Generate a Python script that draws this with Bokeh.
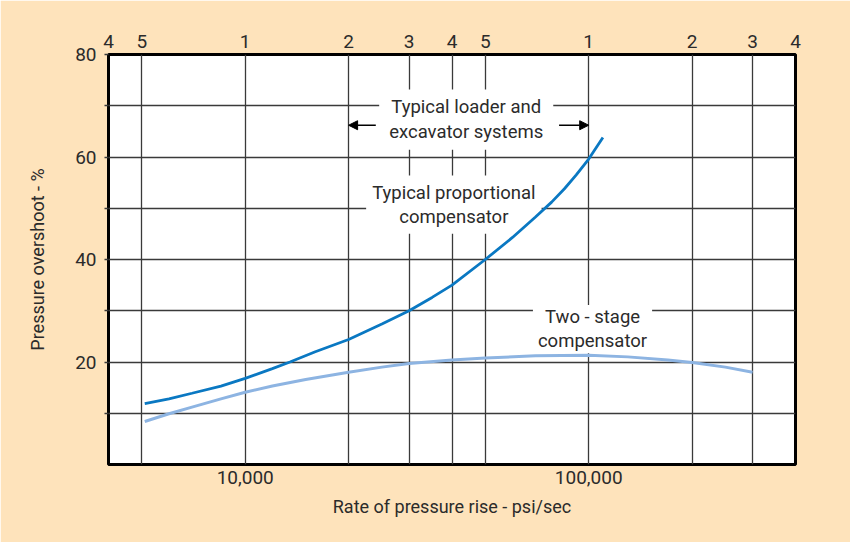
from bokeh.plotting import figure
from bokeh.models import FixedTicker, LogAxis, Label, Arrow, NormalHead
from bokeh.embed import file_html
from bokeh.resources import INLINE

FONT = "Roboto"
TEXT = "#2b2b2b"
BG = "#fee3bb"

# ---- data ----
prop_rate = [5100, 6000, 7000, 8500, 10000, 12000, 13500, 16000, 20000, 25000, 30000,
             35000, 40000, 50000, 60000, 70000, 78000, 85000, 92000, 100000, 110000]
prop_overshoot = [11.9, 12.8, 13.9, 15.3, 16.8, 18.7, 20.0, 22.0, 24.4, 27.4, 30.0,
                  32.6, 35.0, 40.0, 44.3, 48.3, 51.2, 53.8, 56.5, 59.6, 63.8]

two_rate = [5100, 6000, 7000, 8500, 10000, 12000, 15000, 20000, 25000, 30000, 40000,
            50000, 70000, 100000, 130000, 170000, 200000, 250000, 300000]
two_overshoot = [8.4, 9.9, 11.2, 12.8, 14.1, 15.3, 16.6, 18.0, 19.0, 19.7, 20.4,
                 20.8, 21.2, 21.3, 21.0, 20.4, 19.9, 19.0, 18.0]

top_ticks = [4000, 5000, 10000, 20000, 30000, 40000, 50000, 100000, 200000, 300000, 400000]
top_labels = ["4", "5", "1", "2", "3", "4", "5", "1", "2", "3", "4"]
bottom_ticks = [10000, 100000]
bottom_labels = ["10,000", "100,000"]
y_ticks = [10, 20, 30, 40, 50, 60, 70, 80]
y_labels = ["", "20", "", "40", "", "60", "", "80"]
x_grid = [5000, 10000, 20000, 30000, 40000, 50000, 100000, 200000, 300000]
y_grid = [10, 20, 30, 40, 50, 60, 70]

p = figure(width=850, height=542, x_axis_type="log", x_range=(4000, 400000), y_range=(0, 80),
           output_backend="svg", toolbar_location=None,
           min_border_left=108, min_border_top=54, min_border_right=55, min_border_bottom=78)

p.background_fill_color = "white"
p.border_fill_color = BG
p.outline_line_color = "black"
p.outline_line_width = 3

# grids
p.xgrid.ticker = FixedTicker(ticks=x_grid)
p.ygrid.ticker = FixedTicker(ticks=y_grid)
for g in (p.xgrid, p.ygrid):
    g.grid_line_color = "#3a3a3a"
    g.grid_line_width = 1.3

# bottom axis
xa = p.xaxis[0]
xa.ticker = FixedTicker(ticks=bottom_ticks)
xa.major_label_overrides = dict(zip(bottom_ticks, bottom_labels))
xa.axis_line_color = None
xa.major_tick_line_color = None
xa.minor_tick_line_color = None
xa.major_label_standoff = 0
xa.major_label_text_font = FONT
xa.major_label_text_font_size = "19px"
xa.major_label_text_color = TEXT
xa.axis_label = "Rate of pressure rise - psi/sec"
xa.axis_label_text_font = FONT
xa.axis_label_text_font_size = "18px"
xa.axis_label_text_font_style = "normal"
xa.axis_label_text_color = TEXT
xa.axis_label_standoff = 9

# top axis
ta = LogAxis(ticker=FixedTicker(ticks=top_ticks),
             major_label_overrides=dict(zip(top_ticks, top_labels)))
ta.axis_line_color = None
ta.major_tick_line_color = None
ta.minor_tick_line_color = None
ta.major_label_standoff = 1
ta.major_label_text_font = FONT
ta.major_label_text_font_size = "19px"
ta.major_label_text_color = TEXT
p.add_layout(ta, "above")

# left axis
ya = p.yaxis[0]
ya.ticker = FixedTicker(ticks=y_ticks)
ya.major_label_overrides = dict(zip(y_ticks, y_labels))
ya.axis_line_color = None
ya.major_tick_line_color = "#3a3a3a"
ya.major_tick_line_width = 1.3
ya.major_tick_out = 4
ya.major_tick_in = 0
ya.minor_tick_line_color = None
ya.major_label_standoff = 8
ya.major_label_text_font = FONT
ya.major_label_text_font_size = "19px"
ya.major_label_text_color = TEXT
ya.axis_label = "Pressure overshoot - %"
ya.axis_label_text_font = FONT
ya.axis_label_text_font_size = "18px"
ya.axis_label_text_font_style = "normal"
ya.axis_label_text_color = TEXT
ya.axis_label_standoff = 24

# label boxes (under the curves)
def box_label(x, y, text, pad):
    lab = Label(x=x, y=y, text=text, text_align="center", text_baseline="middle",
                text_font=FONT, text_font_size="18.5px", text_color=TEXT,
                text_line_height=1.1, background_fill_color="white",
                padding=pad, level="underlay")
    p.add_layout(lab)

box_label(44000, 67.3, "Typical loader and\nexcavator systems",
          dict(left=10, right=10, top=7, bottom=7))
box_label(40500, 50.7, "Typical proportional\ncompensator",
          dict(left=6, right=6, top=6, bottom=6))
box_label(102600, 26.4, "Two - stage\ncompensator",
          dict(left=5, right=5, top=1, bottom=1))

# arrows
for xs, xe in ((24000, 20000), (82000, 100000)):
    p.add_layout(Arrow(end=NormalHead(size=9, fill_color="black", line_color="black"),
                       x_start=xs, y_start=66.2, x_end=xe, y_end=66.2,
                       line_color="black", line_width=1.5))

# curves
p.line(two_rate, two_overshoot, line_color="#8db4e2", line_width=3)
p.line(prop_rate, prop_overshoot, line_color="#0a78c2", line_width=2.8)

open("out.html", "w").write(file_html(p, INLINE))
